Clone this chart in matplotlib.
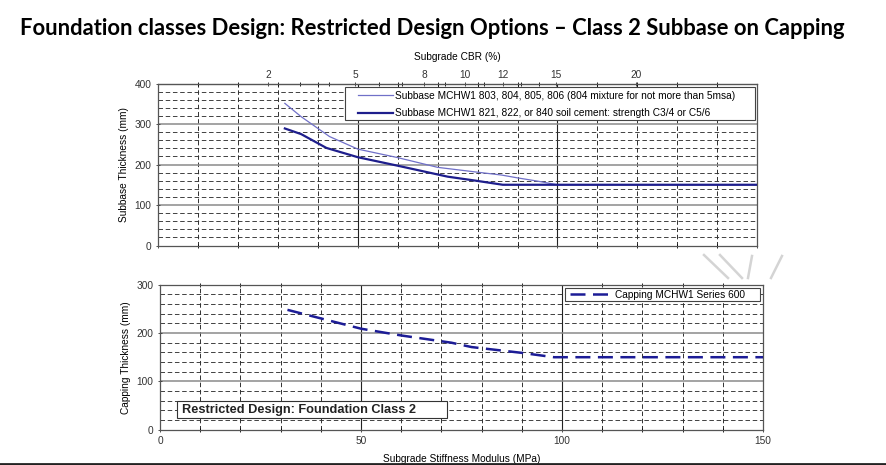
import numpy as np
import matplotlib
matplotlib.use("Agg")
import matplotlib.pyplot as plt
from matplotlib.ticker import FixedLocator, NullFormatter
from matplotlib.patches import Rectangle
from matplotlib.lines import Line2D

plt.rcParams['font.family'] = ['Liberation Sans', 'DejaVu Sans']

# %% data (stiffness modulus in MPa, thickness in mm)
sub_gran_x = [31.7, 35.8, 42.9, 50, 60, 70, 80, 86, 90, 95, 100, 150]
sub_gran_y = [351, 318, 269, 238, 217, 193, 181, 174, 167, 159, 150, 150]
sub_cem_x = [31.7, 35.8, 42.1, 50, 60, 72.5, 79.6, 86.3, 150]
sub_cem_y = [289, 275, 241, 218, 197, 170, 160, 150, 150]
cap_x = [31.7, 50, 60, 72.5, 77.5, 90, 98, 150]
cap_y = [248, 209, 195, 180, 171, 159, 150, 150]

cbr_labels = [2, 5, 8, 10, 12, 15, 20]
cbr_minor = [3, 4, 6, 7, 9, 11, 13, 14]

title = "Foundation classes Design: Restricted Design Options \u2013 Class 2 Subbase on Capping"
leg_gran = "Subbase MCHW1 803, 804, 805, 806 (804 mixture for not more than 5msa)"
leg_cem = "Subbase MCHW1 821, 822, or 840 soil cement: strength C3/4 or C5/6"
leg_cap = "Capping MCHW1 Series 600"
box_text = "Restricted Design: Foundation Class 2"

FS = 7.3


def mpa_to_cbr(e):
    e = np.clip(np.asarray(e, dtype=float), 1e-6, None)
    return (e / 17.6) ** (1 / 0.64)


def cbr_to_mpa(c):
    c = np.clip(np.asarray(c, dtype=float), 1e-6, None)
    return 17.6 * c ** 0.64


def grid_box(ax, ymax):
    # dashed minor grid, solid major lines
    for x in range(10, 150, 10):
        if x % 50:
            ax.axvline(x, color='#222222', lw=0.65, ls=(0, (5, 3)), zorder=1)
        else:
            ax.axvline(x, color='#222222', lw=0.8, zorder=1)
    for y in range(20, ymax, 20):
        if y % 100:
            ax.axhline(y, color='#333333', lw=0.65, ls=(0, (5, 3)), zorder=1)
        else:
            ax.axhline(y, color='#8a8a8a', lw=1.1, zorder=1)
    ax.set_xlim(0, 150)
    ax.set_ylim(0, ymax)
    ax.set_yticks(range(0, ymax + 1, 100))
    ax.xaxis.set_minor_locator(FixedLocator(range(0, 151, 10)))
    ax.tick_params(axis='both', labelsize=FS, colors='#333333', length=3,
                   width=0.6, direction='inout')
    ax.tick_params(axis='x', which='minor', length=3, width=0.6, direction='inout',
                   top=True, bottom=True)
    for s in ax.spines.values():
        s.set_color('#555555')
        s.set_linewidth(0.9)


def boxed_legend(ax, rect, anchor, **kw):
    # plain legend with a separately drawn frame
    ax.add_patch(Rectangle(rect[:2], rect[2], rect[3], transform=ax.transAxes,
                           fc='white', ec='#444444', lw=0.8, zorder=5))
    leg = ax.legend(loc='upper left', bbox_to_anchor=anchor, fontsize=FS,
                    frameon=False, borderpad=0, borderaxespad=0, **kw)
    leg.set_zorder(6)
    return leg


fig = plt.figure(figsize=(8.86, 4.65), dpi=100)
fig.text(0.488, 0.939, title, ha='center', va='center', fontsize=15.8,
         fontweight='bold', family=['Lato', 'DejaVu Sans'])
fig.add_artist(Line2D([0, 1], [0.003, 0.003], transform=fig.transFigure,
                      color='#222222', lw=2))
# faint slide decoration on the right
for (x0, y0, x1, y1) in [(704, 255, 728, 278), (720, 255, 742, 278),
                         (752, 256, 748, 278), (782, 256, 771, 278)]:
    fig.add_artist(Line2D([x0 / 886, x1 / 886], [1 - y0 / 465, 1 - y1 / 465],
                          transform=fig.transFigure, color='#d4d4d4', lw=1.8))

# %% top chart: subbase
ax1 = fig.add_axes([0.1787, 0.4720, 0.6757, 0.3484])
grid_box(ax1, 400)
ax1.set_xticks([0, 50, 100, 150])
ax1.tick_params(axis='x', labelbottom=False)
ax1.plot(sub_gran_x, sub_gran_y, color='#7070c8', lw=0.9, zorder=3, label=leg_gran)
ax1.plot(sub_cem_x, sub_cem_y, color='#1e1e8c', lw=1.6, zorder=4, label=leg_cem)
ax1.set_ylabel("Subbase Thickness (mm)", fontsize=FS, labelpad=4)
boxed_legend(ax1, (0.3118, 0.7747, 0.6849, 0.2053), (0.333, 0.955),
             handlelength=3.5, labelspacing=0.75, handletextpad=0.15)

sec = ax1.secondary_xaxis('top', functions=(mpa_to_cbr, cbr_to_mpa))
sec.set_xticks(cbr_labels)
sec.xaxis.set_minor_locator(FixedLocator(cbr_minor))
sec.xaxis.set_minor_formatter(NullFormatter())
sec.tick_params(axis='x', labelsize=FS, colors='#333333', length=3, width=0.6,
                direction='inout', pad=1)
sec.tick_params(axis='x', which='minor', length=3, width=0.6, direction='inout')
sec.set_xlabel("Subgrade CBR (%)", fontsize=FS, labelpad=7)

# %% bottom chart: capping
ax2 = fig.add_axes([0.1806, 0.0759, 0.6806, 0.3118])
grid_box(ax2, 300)
ax2.set_xticks([0, 50, 100, 150])
ax2.tick_params(axis='x', pad=3)
ax2.plot(cap_x, cap_y, color='#1c1c96', lw=1.8, ls=(0, (6, 3)), zorder=3, label=leg_cap)
ax2.set_ylabel("Capping Thickness (mm)", fontsize=FS, labelpad=4)
ax2.set_xlabel("Subgrade Stiffness Modulus (MPa)", fontsize=FS, labelpad=6)
boxed_legend(ax2, (0.6716, 0.8876, 0.3234, 0.0894), (0.680, 0.965),
             handlelength=3.95, handletextpad=0.5)
ax2.add_patch(Rectangle((0.0277, 0.0807), 0.449, 0.118, transform=ax2.transAxes,
                        fc='white', ec='#333333', lw=0.8, zorder=6))
ax2.text(0.0365, 0.139, box_text, transform=ax2.transAxes, fontsize=9.2,
         fontweight='bold', color='#222222', va='center', zorder=7)

fig.savefig("out.png", dpi=100)
